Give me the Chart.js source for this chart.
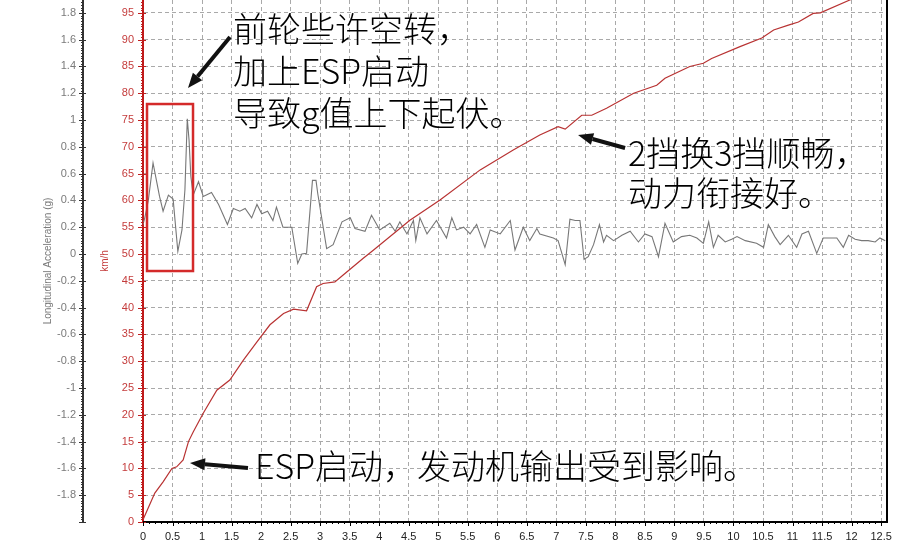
<!DOCTYPE html>
<html><head><meta charset="utf-8">
<script src="https://cdn.jsdelivr.net/npm/chart.js@4/dist/chart.umd.min.js"></script>
<style>html,body{margin:0;padding:0;background:#fff}canvas{display:block}</style>
</head><body>
<canvas id="c" width="908" height="545"></canvas>
<script>
// ---- data ----
const speedTime = [0, 0.2, 0.34, 0.49, 0.57, 0.68, 0.77, 0.85, 1.02, 1.25, 1.47, 1.70, 1.93, 2.15, 2.38, 2.55, 2.77, 2.94, 3.05, 3.25, 3.39, 3.73, 3.90, 4.52, 5.03, 5.71, 6.27, 6.72, 7.03, 7.15, 7.43, 7.60, 7.85, 8.31, 8.70, 8.84, 9.26, 9.49, 9.63, 10.11, 10.48, 10.68, 10.93, 11.10, 11.35, 11.47, 11.97, 12.3, 12.6];
const speedKmh = [0.4, 5.4, 7.5, 10.0, 10.3, 11.6, 15.0, 16.8, 20.3, 24.6, 26.5, 30.2, 33.6, 36.8, 38.9, 39.7, 39.4, 43.9, 44.5, 44.8, 46.1, 49.2, 50.7, 56.3, 60.1, 65.7, 69.4, 72.2, 73.75, 73.3, 75.9, 75.9, 77.2, 80.0, 81.5, 82.8, 85.0, 85.6, 86.5, 88.7, 90.3, 91.8, 92.7, 93.3, 94.9, 95.0, 97.4, 99.0, 100.5];

const accelTime = [0.00, 0.03, 0.09, 0.17, 0.28, 0.34, 0.43, 0.51, 0.59, 0.66, 0.71, 0.75, 0.78, 0.81, 0.85, 0.94, 1.02, 1.16, 1.28, 1.43, 1.53, 1.64, 1.73, 1.84, 1.93, 2.01, 2.11, 2.20, 2.26, 2.37, 2.52, 2.62, 2.69, 2.77, 2.87, 2.93, 2.96, 3.11, 3.22, 3.37, 3.51, 3.59, 3.76, 3.87, 4.01, 4.18, 4.27, 4.35, 4.47, 4.58, 4.62, 4.69, 4.81, 4.97, 5.14, 5.23, 5.31, 5.43, 5.54, 5.65, 5.79, 5.88, 6.05, 6.22, 6.30, 6.44, 6.55, 6.67, 6.72, 6.95, 7.03, 7.15, 7.23, 7.32, 7.40, 7.47, 7.54, 7.63, 7.73, 7.80, 7.85, 7.97, 8.11, 8.25, 8.39, 8.50, 8.62, 8.73, 8.84, 8.98, 9.12, 9.26, 9.38, 9.49, 9.58, 9.66, 9.74, 9.86, 9.97, 10.06, 10.20, 10.39, 10.51, 10.59, 10.70, 10.79, 10.93, 11.07, 11.16, 11.27, 11.41, 11.52, 11.75, 11.86, 11.95, 12.06, 12.17, 12.28, 12.40, 12.48, 12.57];
const accelG = [0.22, 0.27, 0.40, 0.68, 0.43, 0.32, 0.44, 0.41, 0.02, 0.18, 0.48, 1.01, 0.85, 0.58, 0.44, 0.54, 0.43, 0.46, 0.37, 0.22, 0.34, 0.32, 0.34, 0.27, 0.37, 0.30, 0.32, 0.25, 0.35, 0.20, 0.20, -0.07, 0.00, 0.005, 0.55, 0.55, 0.45, 0.04, 0.07, 0.24, 0.27, 0.19, 0.17, 0.29, 0.18, 0.23, 0.17, 0.24, 0.15, 0.25, 0.10, 0.27, 0.15, 0.25, 0.12, 0.27, 0.18, 0.20, 0.15, 0.22, 0.05, 0.18, 0.15, 0.25, 0.03, 0.20, 0.10, 0.19, 0.15, 0.12, 0.10, -0.08, 0.26, 0.25, 0.25, -0.04, -0.02, 0.07, 0.22, 0.09, 0.14, 0.10, 0.14, 0.17, 0.09, 0.15, 0.13, -0.02, 0.23, 0.09, 0.13, 0.14, 0.12, 0.08, 0.24, 0.05, 0.14, 0.09, 0.11, 0.13, 0.10, 0.08, 0.05, 0.22, 0.13, 0.07, 0.14, 0.05, 0.15, 0.17, 0.005, 0.12, 0.12, 0.05, 0.14, 0.11, 0.10, 0.10, 0.09, 0.12, 0.10];

// axis ranges / tick steps
const timeRange = [0, 12.6];
const timeStep = 0.5;
const kmhRange = [0, 97.4];
const kmhStep = 5;
const gRange = [-2, 1.896];
const gStep = 0.2;

// annotation texts (anchors in data units: seconds, km/h)
const noteLines1 = ['前轮些许空转，', '加上ESP启动', '导致g值上下起伏。'];
const noteLines2 = ['2挡换3挡顺畅，', '动力衔接好。'];
const noteLines3 = ['ESP启动，发动机输出受到影响。'];
const noteAnchors = [[1.524, 91.98], [8.215, 68.84], [1.897, 10.45]];
const arrowTails = [[1.474, 90.49], [8.164, 69.78], [1.778, 10.07]];
const arrowHeads = [[0.762, 80.97], [7.368, 72.20], [0.796, 11.0]];
const boxCorners = [[0.068, 77.99], [0.847, 46.83]];

const FONT = "'Liberation Sans', Arial, sans-serif";
const CJK = "'Noto Sans CJK SC', 'Noto Sans', sans-serif";
const GRID = '#a9a9a9';
const fmt = v => String(Number(v.toFixed(2)));

const decor = {
  id: 'decor',
  afterDraw(chart) {
    const {ctx, chartArea: ca, scales} = chart;
    const X = scales.x, K = scales.kmh, G = scales.g;
    ctx.save();
    // right frame
    ctx.strokeStyle = '#000'; ctx.lineWidth = 2;
    ctx.beginPath(); ctx.moveTo(ca.right, ca.top); ctx.lineTo(ca.right, ca.bottom + 1); ctx.stroke();
    // g axis minor ticks
    ctx.lineWidth = 1; ctx.strokeStyle = '#333';
    for (let i = 0; i <= 200; i++) {
      const v = gRange[0] + i * 0.02;
      if (v > gRange[1]) break;
      const y = Math.round(G.getPixelForValue(v)) + 0.5;
      const len = i % 10 === 0 ? 4 : 2;
      ctx.beginPath(); ctx.moveTo(G.right - len, y); ctx.lineTo(G.right + len - 1, y); ctx.stroke();
    }
    // km/h axis minor ticks
    ctx.strokeStyle = '#c02020';
    for (let i = 0; i <= 200; i++) {
      const v = kmhRange[0] + i * 0.5;
      if (v > kmhRange[1]) break;
      const y = Math.round(K.getPixelForValue(v)) + 0.5;
      const len = i % 10 === 0 ? 5 : 2;
      ctx.beginPath(); ctx.moveTo(K.right - len, y); ctx.lineTo(K.right + (i % 10 === 0 ? 3 : 1), y); ctx.stroke();
    }
    // x axis minor ticks
    ctx.strokeStyle = '#000';
    for (let i = 0; i <= 200; i++) {
      const v = timeRange[0] + i * 0.1;
      if (v > timeRange[1]) break;
      const x = Math.round(X.getPixelForValue(v)) + 0.5;
      const len = i % 5 === 0 ? 4 : 2;
      ctx.beginPath(); ctx.moveTo(x, X.top - 1); ctx.lineTo(x, X.top + len); ctx.stroke();
    }
    // red box
    const bx0 = X.getPixelForValue(boxCorners[0][0]), by0 = K.getPixelForValue(boxCorners[0][1]);
    const bx1 = X.getPixelForValue(boxCorners[1][0]), by1 = K.getPixelForValue(boxCorners[1][1]);
    ctx.strokeStyle = '#d42a2a'; ctx.lineWidth = 2.5;
    ctx.strokeRect(bx0, by0, bx1 - bx0, by1 - by0);
    // arrows
    ctx.strokeStyle = '#111'; ctx.fillStyle = '#111';
    for (let i = 0; i < arrowTails.length; i++) {
      const x0 = X.getPixelForValue(arrowTails[i][0]), y0 = K.getPixelForValue(arrowTails[i][1]);
      const x1 = X.getPixelForValue(arrowHeads[i][0]), y1 = K.getPixelForValue(arrowHeads[i][1]);
      const a = Math.atan2(y1 - y0, x1 - x0);
      const hl = 15, hw = 6;
      const bxp = x1 - hl * Math.cos(a), byp = y1 - hl * Math.sin(a);
      ctx.lineWidth = 4; ctx.lineCap = 'butt';
      ctx.beginPath(); ctx.moveTo(x0, y0); ctx.lineTo(bxp, byp); ctx.stroke();
      ctx.beginPath();
      ctx.moveTo(x1, y1);
      ctx.lineTo(bxp + hw * Math.sin(a), byp - hw * Math.cos(a));
      ctx.lineTo(bxp - hw * Math.sin(a), byp + hw * Math.cos(a));
      ctx.closePath(); ctx.fill();
    }
    // texts
    ctx.fillStyle = '#000';
    ctx.font = '300 34px ' + CJK;
    ctx.textAlign = 'left'; ctx.textBaseline = 'middle';
    const groups = [noteLines1, noteLines2, noteLines3];
    const lh = [42, 40, 40];
    groups.forEach((lines, gi) => {
      const x = X.getPixelForValue(noteAnchors[gi][0]);
      const y = K.getPixelForValue(noteAnchors[gi][1]);
      lines.forEach((t, li) => ctx.fillText(t, x, y + li * lh[gi]));
    });
    ctx.restore();
  }
};

new Chart(document.getElementById('c'), {
  type: 'line',
  data: {
    datasets: [
      {
        label: 'Speed',
        data: speedTime.map((t, i) => ({x: t, y: speedKmh[i]})),
        yAxisID: 'kmh', borderColor: '#b83232', borderWidth: 1.2,
        pointRadius: 0, tension: 0, fill: false
      },
      {
        label: 'Longitudinal Acceleration',
        data: accelTime.map((t, i) => ({x: t, y: accelG[i]})),
        yAxisID: 'g', borderColor: '#777', borderWidth: 1.1,
        pointRadius: 0, tension: 0, fill: false
      }
    ]
  },
  options: {
    responsive: false, animation: false, devicePixelRatio: 1,
    layout: {padding: {top: 0, right: 21, bottom: 0, left: 0}},
    plugins: {legend: {display: false}, tooltip: {enabled: false}},
    scales: {
      x: {
        type: 'linear', position: 'bottom', min: timeRange[0], max: timeRange[1],
        ticks: {stepSize: timeStep, includeBounds: false, autoSkip: false, maxRotation: 0,
          color: '#222', font: {family: FONT, size: 11}, padding: 8, callback: v => fmt(v)},
        grid: {color: GRID, lineWidth: 1, drawTicks: false},
        border: {display: true, color: '#000', width: 2, dash: [4, 3]},
        afterFit: s => { s.height = 23; s.paddingLeft = 0; s.paddingRight = 0; }
      },
      kmh: {
        type: 'linear', position: 'left', weight: 0, min: kmhRange[0], max: kmhRange[1],
        ticks: {stepSize: kmhStep, includeBounds: false, color: '#c43c3c',
          font: {family: FONT, size: 11}, padding: 9, callback: v => fmt(v)},
        grid: {color: GRID, lineWidth: 1, drawTicks: false},
        border: {display: true, color: '#c01818', width: 2, dash: [4, 3]},
        title: {display: true, text: 'km/h', color: '#c43c3c', font: {family: FONT, size: 10}, padding: {top: 16, bottom: 0}},
        afterFit: s => { s.width = 60; s.paddingTop = 0; s.paddingBottom = 0; }
      },
      g: {
        type: 'linear', position: 'left', weight: 1, min: gRange[0], max: gRange[1],
        ticks: {stepSize: gStep, includeBounds: false, color: '#7a7a7a',
          font: {family: FONT, size: 11}, padding: 7,
          callback: v => Math.abs(v - gRange[0]) < 1e-6 ? '' : fmt(v)},
        grid: {drawOnChartArea: false, drawTicks: false},
        border: {display: true, color: '#333', width: 2},
        title: {display: true, text: 'Longitudinal Acceleration (g)', color: '#7a7a7a', font: {family: FONT, size: 10}, padding: {top: 42, bottom: 0}},
        afterFit: s => { s.width = 83; s.paddingTop = 0; s.paddingBottom = 0; }
      }
    }
  },
  plugins: [decor]
});
</script>
</body></html>
